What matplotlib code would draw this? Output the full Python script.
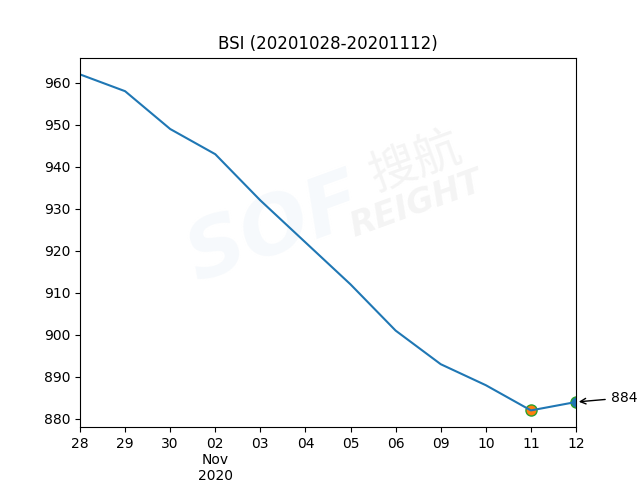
import matplotlib
matplotlib.use("Agg")
import matplotlib.pyplot as plt

labels = ["28", "29", "30", "02\nNov\n2020", "03", "04", "05", "06", "09", "10", "11", "12"]
values = [962, 958, 949, 943, 932, 922, 912, 901, 893, 888, 882, 884]
title = "BSI (20201028-20201112)"

fig, ax = plt.subplots(figsize=(6.4, 4.8), dpi=100)
x = list(range(len(values)))

# watermark (drawn behind the axes)
fig.text(0.43, 0.52, "SOF", fontsize=58, fontweight="bold", style="italic",
         color="#f6f9fc", rotation=20, ha="center", va="center", zorder=-1)
fig.text(0.65, 0.66, "搜航", fontsize=34, color="#f4f4f4", rotation=20,
         ha="center", va="center", family=["Noto Sans CJK SC", "DejaVu Sans"], zorder=-1)
fig.text(0.65, 0.575, "REIGHT", fontsize=24, fontweight="bold", style="italic",
         color="#f4f4f4", rotation=20, ha="center", va="center", zorder=-1)
ax.patch.set_alpha(0)
ax.set_zorder(1)

ax.plot(x[-2], values[-2], "o", markersize=8, markerfacecolor="C1", markeredgecolor="C2", zorder=1)
ax.plot(x[-1], values[-1], "o", markersize=8, markerfacecolor="C0", markeredgecolor="C2", zorder=1)
ax.plot(x, values, color="C0", zorder=2)

ax.set_xticks(x)
ax.set_xticklabels(labels)
ax.set_xlim(x[0], x[-1])
ax.set_title(title)

ax.annotate(str(values[-1]), xy=(x[-1], values[-1]), xytext=(25, 3),
            textcoords="offset points", va="center", ha="left",
            arrowprops=dict(arrowstyle="->", color="black"), annotation_clip=False)

fig.savefig("out.png", dpi=100)
